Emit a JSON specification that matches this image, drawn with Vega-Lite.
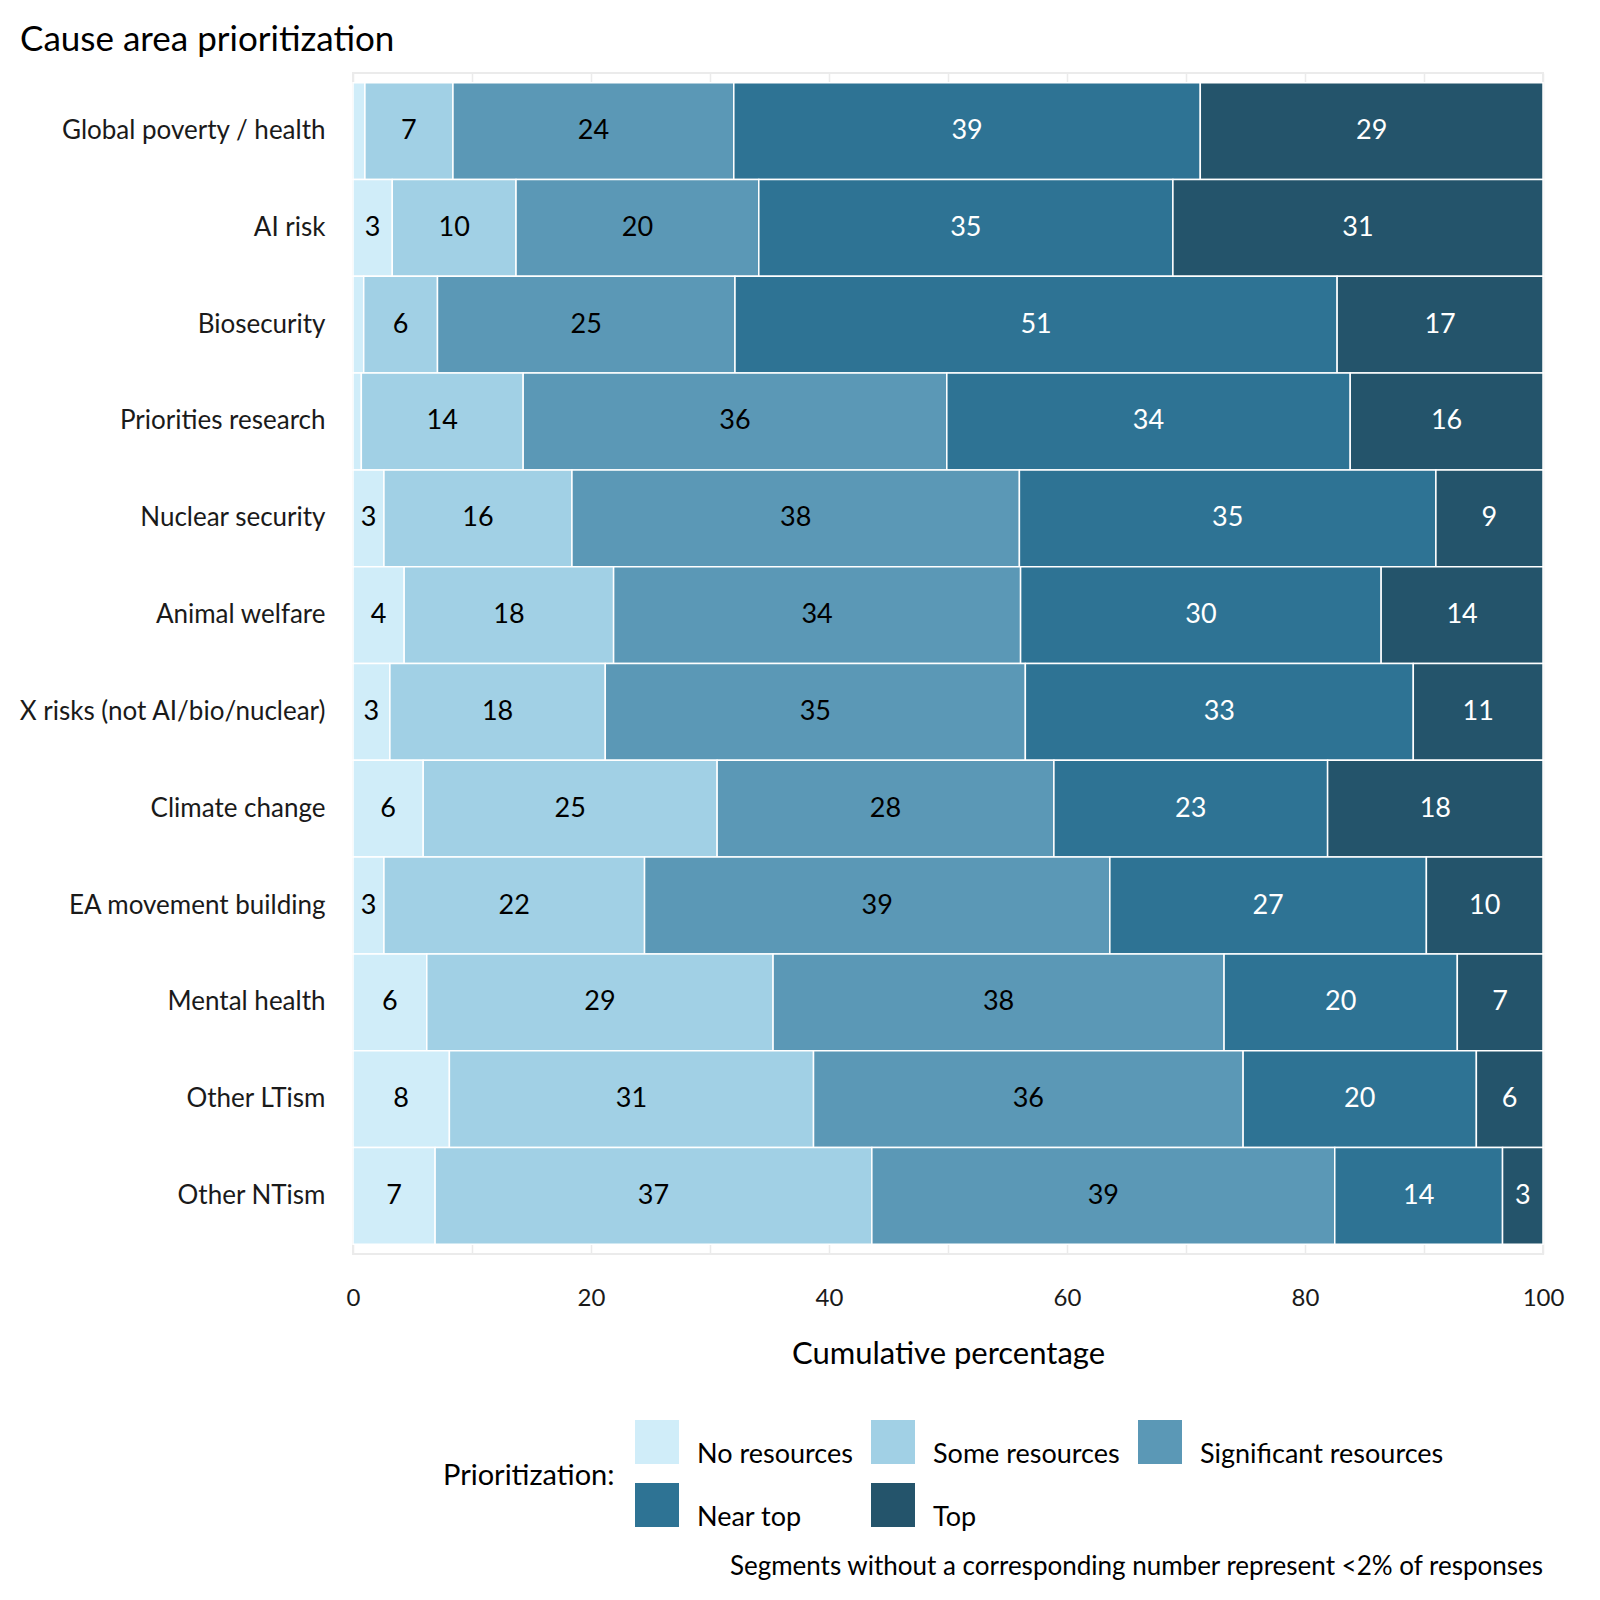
{
  "$schema": "https://vega.github.io/schema/vega-lite/v6.json",
  "autosize": {"type": "none"},
  "padding": {"left": 353, "top": 73, "right": 57, "bottom": 346},
  "width": 1190,
  "height": 1181,
  "title": {
    "text": "Cause area prioritization",
    "anchor": "start",
    "frame": "group",
    "dx": -333,
    "offset": -13,
    "baseline": "alphabetic",
    "fontSize": 35,
    "fontWeight": "normal",
    "color": "black"
  },
  "config": {
    "font": "Lato",
    "view": {"stroke": "#ebebeb", "strokeWidth": 2}
  },
  "datasets": {
    "shares": [
      {"cause": "Global poverty / health", "level": "No resources", "pct": 1.0},
      {"cause": "Global poverty / health", "level": "Some resources", "pct": 7.4},
      {"cause": "Global poverty / health", "level": "Significant resources", "pct": 23.6},
      {"cause": "Global poverty / health", "level": "Near top", "pct": 39.2},
      {"cause": "Global poverty / health", "level": "Top", "pct": 28.8},
      {"cause": "AI risk", "level": "No resources", "pct": 3.3},
      {"cause": "AI risk", "level": "Some resources", "pct": 10.4},
      {"cause": "AI risk", "level": "Significant resources", "pct": 20.4},
      {"cause": "AI risk", "level": "Near top", "pct": 34.8},
      {"cause": "AI risk", "level": "Top", "pct": 31.1},
      {"cause": "Biosecurity", "level": "No resources", "pct": 0.9},
      {"cause": "Biosecurity", "level": "Some resources", "pct": 6.2},
      {"cause": "Biosecurity", "level": "Significant resources", "pct": 25.0},
      {"cause": "Biosecurity", "level": "Near top", "pct": 50.6},
      {"cause": "Biosecurity", "level": "Top", "pct": 17.3},
      {"cause": "Priorities research", "level": "No resources", "pct": 0.7},
      {"cause": "Priorities research", "level": "Some resources", "pct": 13.6},
      {"cause": "Priorities research", "level": "Significant resources", "pct": 35.6},
      {"cause": "Priorities research", "level": "Near top", "pct": 33.9},
      {"cause": "Priorities research", "level": "Top", "pct": 16.2},
      {"cause": "Nuclear security", "level": "No resources", "pct": 2.6},
      {"cause": "Nuclear security", "level": "Some resources", "pct": 15.8},
      {"cause": "Nuclear security", "level": "Significant resources", "pct": 37.6},
      {"cause": "Nuclear security", "level": "Near top", "pct": 35.0},
      {"cause": "Nuclear security", "level": "Top", "pct": 9.0},
      {"cause": "Animal welfare", "level": "No resources", "pct": 4.3},
      {"cause": "Animal welfare", "level": "Some resources", "pct": 17.6},
      {"cause": "Animal welfare", "level": "Significant resources", "pct": 34.2},
      {"cause": "Animal welfare", "level": "Near top", "pct": 30.3},
      {"cause": "Animal welfare", "level": "Top", "pct": 13.6},
      {"cause": "X risks (not AI/bio/nuclear)", "level": "No resources", "pct": 3.1},
      {"cause": "X risks (not AI/bio/nuclear)", "level": "Some resources", "pct": 18.1},
      {"cause": "X risks (not AI/bio/nuclear)", "level": "Significant resources", "pct": 35.3},
      {"cause": "X risks (not AI/bio/nuclear)", "level": "Near top", "pct": 32.6},
      {"cause": "X risks (not AI/bio/nuclear)", "level": "Top", "pct": 10.9},
      {"cause": "Climate change", "level": "No resources", "pct": 5.9},
      {"cause": "Climate change", "level": "Some resources", "pct": 24.7},
      {"cause": "Climate change", "level": "Significant resources", "pct": 28.3},
      {"cause": "Climate change", "level": "Near top", "pct": 23.0},
      {"cause": "Climate change", "level": "Top", "pct": 18.1},
      {"cause": "EA movement building", "level": "No resources", "pct": 2.6},
      {"cause": "EA movement building", "level": "Some resources", "pct": 21.9},
      {"cause": "EA movement building", "level": "Significant resources", "pct": 39.1},
      {"cause": "EA movement building", "level": "Near top", "pct": 26.6},
      {"cause": "EA movement building", "level": "Top", "pct": 9.8},
      {"cause": "Mental health", "level": "No resources", "pct": 6.2},
      {"cause": "Mental health", "level": "Some resources", "pct": 29.1},
      {"cause": "Mental health", "level": "Significant resources", "pct": 37.9},
      {"cause": "Mental health", "level": "Near top", "pct": 19.6},
      {"cause": "Mental health", "level": "Top", "pct": 7.2},
      {"cause": "Other LTism", "level": "No resources", "pct": 8.1},
      {"cause": "Other LTism", "level": "Some resources", "pct": 30.6},
      {"cause": "Other LTism", "level": "Significant resources", "pct": 36.1},
      {"cause": "Other LTism", "level": "Near top", "pct": 19.6},
      {"cause": "Other LTism", "level": "Top", "pct": 5.6},
      {"cause": "Other NTism", "level": "No resources", "pct": 6.9},
      {"cause": "Other NTism", "level": "Some resources", "pct": 36.7},
      {"cause": "Other NTism", "level": "Significant resources", "pct": 38.9},
      {"cause": "Other NTism", "level": "Near top", "pct": 14.1},
      {"cause": "Other NTism", "level": "Top", "pct": 3.4}
    ]
  },
  "layer": [
    {
      "data": {"name": "shares"},
      "transform": [
        {"calculate": "indexof(['No resources','Some resources','Significant resources','Near top','Top'], datum.level)", "as": "rank"},
        {"stack": "pct", "groupby": ["cause"], "sort": [{"field": "rank"}], "as": ["x0", "x1"]}
      ],
      "mark": {"type": "bar", "stroke": "white", "strokeWidth": 1.5},
      "encoding": {
        "y": {
          "field": "cause",
          "type": "nominal",
          "sort": ["Global poverty / health", "AI risk", "Biosecurity", "Priorities research", "Nuclear security", "Animal welfare", "X risks (not AI/bio/nuclear)", "Climate change", "EA movement building", "Mental health", "Other LTism", "Other NTism"],
          "scale": {"paddingInner": 0, "paddingOuter": 0.1},
          "axis": {"title": null, "labelFontSize": 26, "labelPadding": 28, "ticks": false, "domain": false, "grid": false, "labelColor": "#1a1a1a", "labelLimit": 0}
        },
        "x": {
          "field": "x0",
          "type": "quantitative",
          "scale": {"domain": [0, 100], "nice": false},
          "axis": {
            "title": "Cumulative percentage",
            "values": [0, 10, 20, 30, 40, 50, 60, 70, 80, 90, 100],
            "labelExpr": "datum.value % 20 == 0 ? datum.label : ''",
            "labelOverlap": false,
            "labelFlush": false,
            "grid": true,
            "gridColor": "#ebebeb",
            "gridWidth": 1.5,
            "ticks": false,
            "domain": false,
            "labelFontSize": 24,
            "labelColor": "#1a1a1a",
            "labelPadding": 32,
            "titleFontSize": 31,
            "titleFontWeight": "normal",
            "titleColor": "black",
            "titlePadding": 29
          }
        },
        "x2": {"field": "x1"},
        "color": {
          "field": "level",
          "type": "nominal",
          "scale": {
            "domain": ["No resources", "Some resources", "Significant resources", "Near top", "Top"],
            "range": ["#d0edf9", "#a1d0e5", "#5b98b6", "#2e7394", "#24546b"]
          },
          "legend": {
            "title": "Prioritization:",
            "orient": "none",
            "direction": "horizontal",
            "legendX": 90,
            "legendY": 1347,
            "padding": 0,
            "columns": 3,
            "titleOrient": "left",
            "titleAnchor": "middle",
            "titleBaseline": "middle",
            "titleFontSize": 29,
            "titleFontWeight": "normal",
            "titleColor": "black",
            "titlePadding": 20,
            "symbolType": "square",
            "symbolSize": 1936,
            "symbolStrokeWidth": 0,
            "symbolOpacity": 1,
            "labelFontSize": 27,
            "labelLimit": 0,
            "labelColor": "black",
            "labelBaseline": "top",
            "labelOffset": 18,
            "columnPadding": 18,
            "rowPadding": 15
          }
        }
      }
    },
    {
      "data": {"name": "shares"},
      "transform": [
        {"calculate": "indexof(['No resources','Some resources','Significant resources','Near top','Top'], datum.level)", "as": "rank"},
        {"stack": "pct", "groupby": ["cause"], "sort": [{"field": "rank"}], "as": ["x0", "x1"]},
        {"filter": "datum.pct >= 2"},
        {"calculate": "(datum.x0 + datum.x1) / 2", "as": "mid"}
      ],
      "mark": {"type": "text", "fontSize": 27, "baseline": "middle"},
      "encoding": {
        "y": {"field": "cause", "type": "nominal", "sort": ["Global poverty / health", "AI risk", "Biosecurity", "Priorities research", "Nuclear security", "Animal welfare", "X risks (not AI/bio/nuclear)", "Climate change", "EA movement building", "Mental health", "Other LTism", "Other NTism"]},
        "x": {"field": "mid", "type": "quantitative"},
        "text": {"field": "pct", "type": "quantitative", "format": ".0f"},
        "color": {
          "condition": {"test": "datum.level == 'Near top' || datum.level == 'Top'", "value": "white"},
          "value": "black"
        }
      }
    },
    {
      "data": {"values": [{"note": "Segments without a corresponding number represent <2% of responses"}]},
      "mark": {"type": "text", "align": "right", "baseline": "alphabetic", "y": {"expr": "height"}, "dy": 321, "fontSize": 26, "color": "black"},
      "encoding": {
        "x": {"datum": 100, "type": "quantitative"},
        "text": {"field": "note"}
      }
    }
  ]
}
